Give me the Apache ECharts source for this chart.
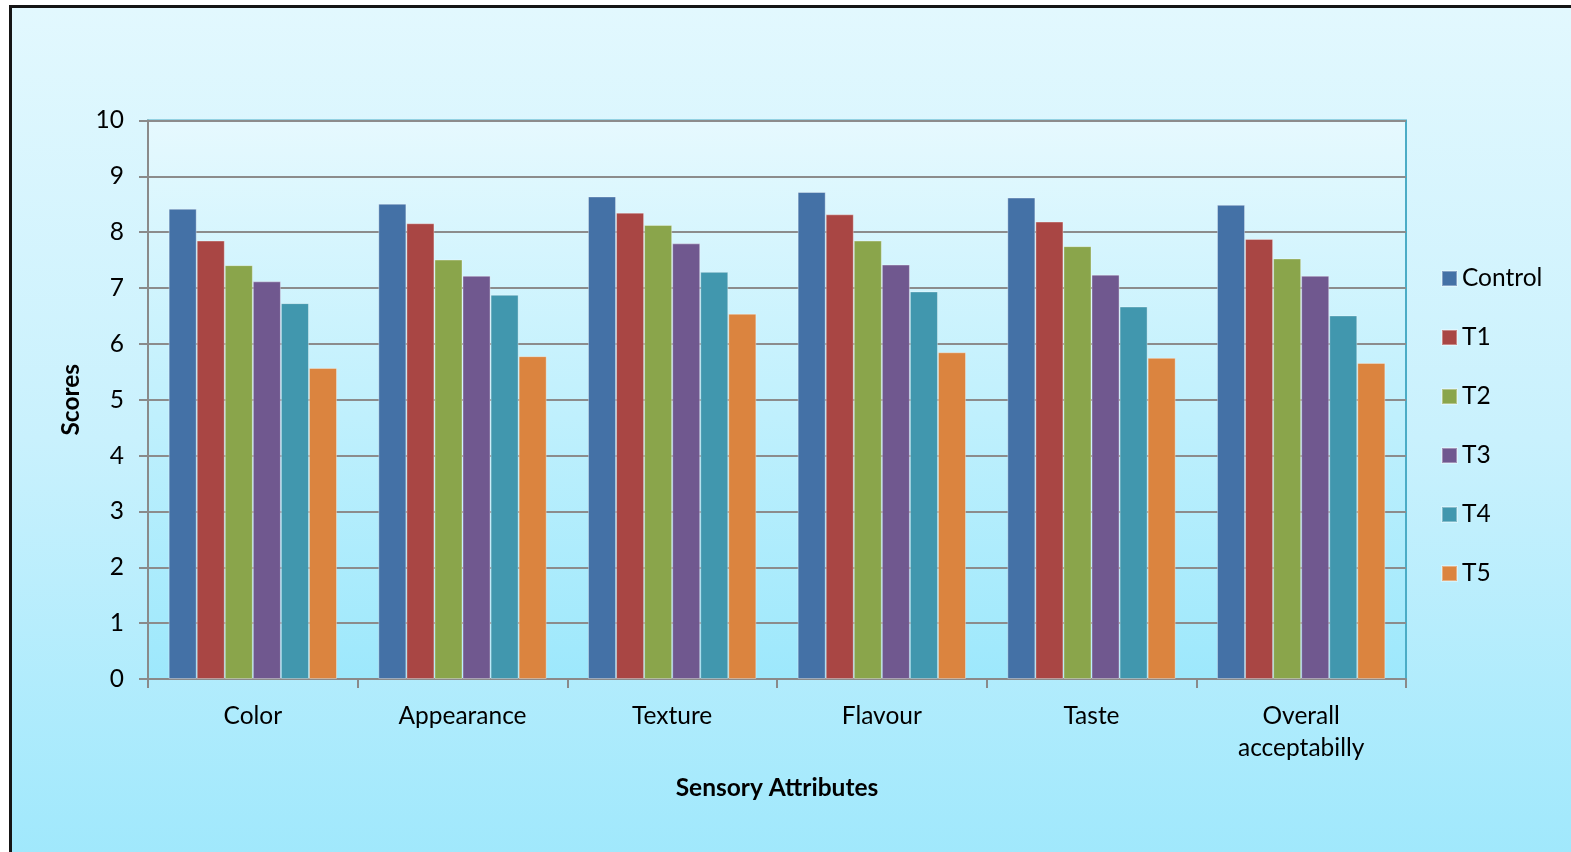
<!DOCTYPE html>
<html>
<head>
<meta charset="utf-8">
<script src="https://cdn.jsdelivr.net/npm/echarts@6/dist/echarts.min.js"></script>
<style>
  html, body { margin: 0; padding: 0; background: #ffffff; overflow: hidden; }
  #frame {
    position: absolute; left: 9px; top: 5px; width: 1580px; height: 860px;
    border-left: 3px solid #151515; border-top: 3px solid #151515;
    background: linear-gradient(to bottom, #e2f8fe 0%, #c9f1fd 50%, #9fe8fc 100%);
  }
  #chart { position: absolute; left: 0; top: 0; width: 1571px; height: 852px; }
</style>
</head>
<body>
<div id="frame"></div>
<div id="chart"></div>
<script>
// Sensory attribute categories
const categories = ['Color', 'Appearance', 'Texture', 'Flavour', 'Taste', 'Overall\nacceptabilly'];

// Mean sensory scores per treatment
const control = [8.42, 8.51, 8.64, 8.72, 8.62, 8.49];
const t1      = [7.85, 8.16, 8.35, 8.32, 8.19, 7.88];
const t2      = [7.41, 7.51, 8.13, 7.85, 7.75, 7.53];
const t3      = [7.12, 7.22, 7.80, 7.42, 7.24, 7.22];
const t4      = [6.73, 6.88, 7.29, 6.94, 6.67, 6.51];
const t5      = [5.57, 5.78, 6.54, 5.85, 5.75, 5.66];

const seriesNames = ['Control', 'T1', 'T2', 'T3', 'T4', 'T5'];
const seriesData = [control, t1, t2, t3, t4, t5];
const colors = ['#4471a6', '#a94644', '#8aa54b', '#70588f', '#4197ae', '#db843f'];

const FONT = 'Lato';
const FS = 24.5;

const chart = echarts.init(document.getElementById('chart'), null, { renderer: 'canvas' });

chart.setOption({
  backgroundColor: 'transparent',
  color: colors,
  animation: false,
  textStyle: { fontFamily: FONT, color: '#000' },
  grid: {
    left: 148, right: 165, top: 120.5, bottom: 173,
    show: true,
    borderColor: '#4bacc6', borderWidth: 2,
    backgroundColor: new echarts.graphic.LinearGradient(0, 0, 0, 1, [
      { offset: 0, color: '#e6f9fe' },
      { offset: 1, color: '#9de8fc' }
    ])
  },
  legend: {
    orient: 'vertical',
    left: 1436, top: 261,
    itemWidth: 15, itemHeight: 15,
    itemGap: 34,
    icon: 'rect',
    textStyle: { fontFamily: FONT, fontSize: FS, color: '#000', lineHeight: 24, padding: [0, 0, 0, 0] },
    data: seriesNames
  },
  xAxis: {
    type: 'category',
    data: categories,
    name: 'Sensory Attributes',
    nameLocation: 'middle',
    nameGap: 97,
    nameTextStyle: { fontFamily: FONT, fontSize: FS, fontWeight: 'bold', color: '#000' },
    axisLine: { show: true, lineStyle: { color: '#8a8a8a', width: 2 } },
    axisTick: { show: true, length: 9, lineStyle: { color: '#8a8a8a', width: 2 } },
    axisLabel: { fontFamily: FONT, fontSize: FS, color: '#000', margin: 21, lineHeight: 32 },
    splitLine: { show: false }
  },
  yAxis: {
    type: 'value',
    min: 0, max: 10, interval: 1,
    name: 'Scores',
    nameLocation: 'middle',
    nameGap: 64,
    nameRotate: 90,
    nameTextStyle: { fontFamily: FONT, fontSize: FS, fontWeight: 'bold', color: '#000' },
    axisLine: { show: true, lineStyle: { color: '#8a8a8a', width: 2 } },
    axisTick: { show: true, length: 9, lineStyle: { color: '#8a8a8a', width: 2 } },
    axisLabel: { fontFamily: FONT, fontSize: FS, color: '#000', margin: 24 },
    splitLine: { show: true, lineStyle: { color: '#8c8c8c', width: 2 } }
  },
  series: seriesNames.map((name, i) => ({
    name: name,
    type: 'bar',
    data: seriesData[i],
    barGap: '0%',
    barCategoryGap: '19.7%',
    itemStyle: { color: colors[i], borderColor: 'rgba(255,255,255,0.35)', borderWidth: 1 }
  }))
});
</script>
</body>
</html>
